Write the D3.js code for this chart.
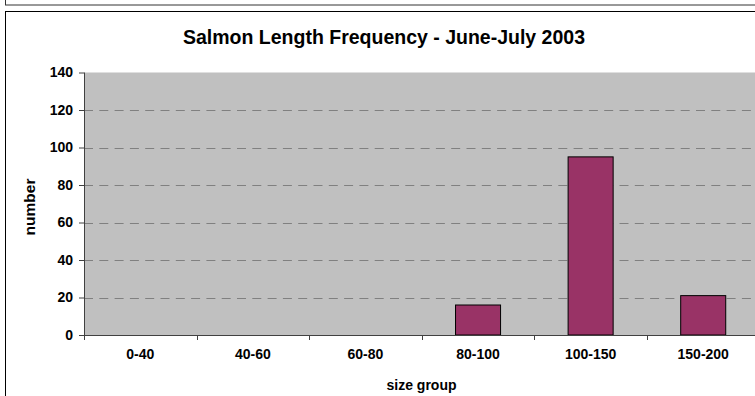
<!DOCTYPE html>
<html><head><meta charset="utf-8">
<script src="https://cdn.jsdelivr.net/npm/d3@7"></script>
<style>html,body{margin:0;padding:0;background:#fff;overflow:hidden}svg{display:block}</style>
</head><body>
<script>
const categories = ["0-40","40-60","60-80","80-100","100-150","150-200"];
const values = [0,0,0,16,95,21];
const yTicks = [0,20,40,60,80,100,120,140];
const title = "Salmon Length Frequency - June-July 2003";
const xTitle = "size group";
const yTitle = "number";

(function(){
const W = 755, H = 396;
const svg = d3.select("body").append("svg").attr("width", W).attr("height", H);
const font = "'Liberation Sans', Arial, Helvetica, sans-serif";

// outer boxes
svg.append("rect").attr("x",5.5).attr("y",-20).attr("width",900).attr("height",25)
  .attr("fill","#fff").attr("stroke","#333").attr("stroke-width",1);
svg.append("rect").attr("x",5.5).attr("y",11.5).attr("width",900).attr("height",500)
  .attr("fill","#fff").attr("stroke","#000").attr("stroke-width",1);

const pLeft = 84, pRight = 759.5, pTop = 72.5, pBottom = 335;
const x = d3.scaleBand().domain(categories).range([pLeft, pRight]).paddingInner(0.6).paddingOuter(0.3);
const xb = d3.scaleBand().domain(categories).range([pLeft, pRight]);
const y = d3.scaleLinear().domain([0,140]).range([pBottom, pTop]);

svg.append("rect").attr("x",pLeft).attr("y",pTop).attr("width",pRight-pLeft).attr("height",pBottom-pTop)
  .attr("fill","#c0c0c0");

// gridlines
svg.append("g").selectAll("line").data(yTicks.filter(d=>d>0 && d<140)).join("line")
  .attr("x1",pLeft).attr("x2",pRight).attr("y1",d=>Math.round(y(d))+0.5).attr("y2",d=>Math.round(y(d))+0.5)
  .attr("stroke","#808080").attr("stroke-width",1).attr("stroke-dasharray","9,6.3");

// bars
svg.append("g").selectAll("rect").data(values.map((v,i)=>({c:categories[i],v}))).join("rect")
  .attr("x",d=>x(d.c)).attr("width",x.bandwidth())
  .attr("y",d=>y(d.v)).attr("height",d=>y(0)-y(d.v))
  .attr("fill","#993366").attr("stroke","#000").attr("stroke-width",1)
  .attr("display",d=>d.v>0?null:"none");

// y axis
const yAxis = d3.axisLeft(y).tickValues(yTicks).tickSize(5).tickPadding(6);
const gy = svg.append("g").attr("transform",`translate(${pLeft},0)`).call(yAxis);
gy.select(".domain").attr("stroke","#404040").attr("d",`M0.5,${pTop}V${pBottom}`);
gy.selectAll(".tick line").attr("stroke","#404040");
gy.selectAll(".tick text").attr("font-family",font).attr("font-size",14).attr("font-weight","bold").attr("fill","#000");

// x axis
const xAxis = d3.axisBottom(xb).tickSize(0).tickPadding(14);
const gx = svg.append("g").attr("transform",`translate(0,${pBottom})`).call(xAxis);
gx.select(".domain").attr("stroke","#404040").attr("d",`M${pLeft},0.5H${pRight}`);
gx.selectAll(".tick text").attr("font-family",font).attr("font-size",14).attr("font-weight","bold").attr("fill","#000");
const bounds = categories.map(c=>xb(c)).concat([pRight]);
gx.append("g").selectAll("line").data(bounds).join("line")
  .attr("x1",d=>Math.round(d)+0.5).attr("x2",d=>Math.round(d)+0.5).attr("y1",0).attr("y2",5)
  .attr("stroke","#404040");

// titles
svg.append("text").attr("x",384).attr("y",44).attr("text-anchor","middle")
  .attr("font-family",font).attr("font-size",19.5).attr("font-weight","bold").text(title);
svg.append("text").attr("x",421.5).attr("y",390).attr("text-anchor","middle")
  .attr("font-family",font).attr("font-size",14).attr("font-weight","bold").text(xTitle);
svg.append("text").attr("transform","translate(35,207) rotate(-90)").attr("text-anchor","middle")
  .attr("font-family",font).attr("font-size",15.5).attr("font-weight","bold").text(yTitle);
})();
</script>
</body></html>
